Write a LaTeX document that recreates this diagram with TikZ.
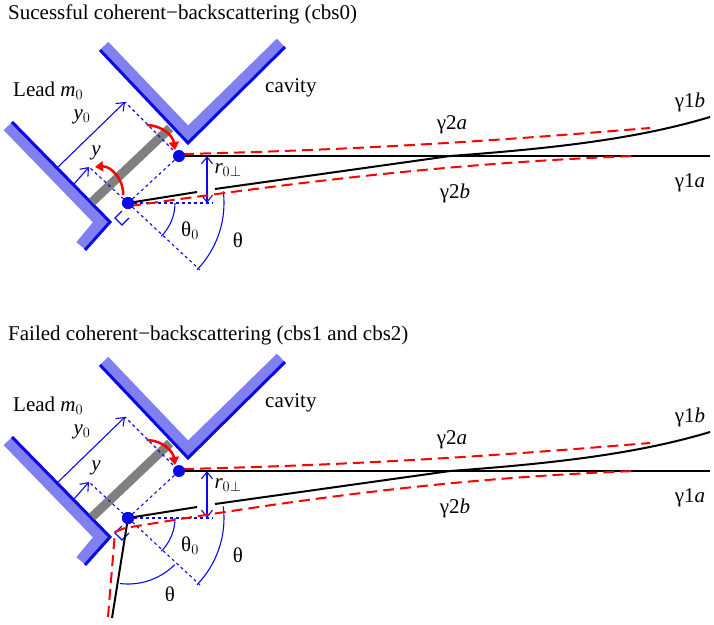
\documentclass[tikz,border=0pt]{standalone}
\usepackage{fontspec}
\setmainfont{Liberation Serif}
\usetikzlibrary{arrows.meta}
\definecolor{lightwall}{RGB}{128,128,240}
\definecolor{darkwall}{RGB}{10,10,230}
\tikzset{
  wallband/.style={line width=12pt, lightwall},
  walledge/.style={line width=3pt, darkwall},
  guide/.style={darkwall, line width=1.1pt, dashed},
  dimarrow/.style={darkwall, line width=1.1pt, -{Straight Barb[length=7pt,width=11pt]}},
  turn/.style={red, line width=2.5pt, -{Triangle[length=8pt,width=10pt]}},
  path1/.style={black, line width=2pt},
  path2/.style={red, line width=2pt, dash pattern=on 11pt off 6pt},
  lbl/.style={font=\fontsize{21}{23}\selectfont, inner sep=0pt},
}
% one panel: walls, lead, geometry and the common paths
\newcommand{\cbspanel}{%
  \draw[wallband] (8,126) -- (101,222) -- (81,246);
  \draw[walledge] (12,122) -- (110,222) -- (85,250);
  \draw[wallband] (104,46) -- (188,134) -- (281,43);
  \draw[walledge] (100,50) -- (188,143) -- (285,47);
  \draw[gray, line width=9pt] (92,202) -- (170,128);
  \coordinate (P1) at (179,156);
  \coordinate (P2) at (128,203);
  \coordinate (Y0) at (125,102);
  \coordinate (Y) at (89,167);
  \draw[guide] (P2) -- (P1) -- (Y0);
  \draw[guide] (P2) -- (Y);
  \draw[guide] (P2) -- (213,203);
  \draw[guide] (P2) -- (200,270);
  \draw[darkwall, line width=1.1pt] (122,211) -- (115,218) -- (122,225) -- (129,218);
  \draw[dimarrow] (57,168) -- (Y0);
  \draw[dimarrow] (74,184) -- (Y);
  \draw[darkwall, line width=1.1pt, {Straight Barb[length=7pt,width=11pt]}-{Straight Barb[length=7pt,width=11pt]}] (207,156) -- (207,203);
  \draw[darkwall, line width=1.1pt] (P2) ++(45:47) arc[start angle=45, end angle=0, radius=47];
  \draw[darkwall, line width=1.1pt] (P2) ++(-7:96) arc[start angle=-7, end angle=44, radius=96];
  \draw[path2] (183,154) .. controls (400,149) and (550,136) .. (650,128);
  \draw[path1] (P1) -- (710,156);
  \draw[path1] (215,189) -- (450,156) .. controls (560,148) and (640,138) .. (710,117);
  \draw[turn] (147,125) to[bend left=40] (175,150);
  \fill[darkwall] (P1) circle (6pt) (P2) circle (6pt);
  \node[lbl, anchor=west] (lead) at (13,91) {Lead \textit{m}$_0$};
  \node[lbl, anchor=west] (cav) at (265,88) {cavity};
  \node[lbl] (ly0) at (82,117) {\textit{y}$_0$};
  \node[lbl] (ly) at (96,153) {\textit{y}};
  \node[lbl] (lr) at (228,170) {\textit{r}$_{0\perp}$};
  \node[lbl] (lt0) at (190,231) {θ$_0$};
  \node[lbl] (lt) at (238,240) {θ};
  \node[lbl] (l2a) at (452,125) {γ2\textit{a}};
  \node[lbl] (l2b) at (455,193) {γ2\textit{b}};
  \node[lbl] (l1b) at (690,102) {γ1\textit{b}};
  \node[lbl] (l1a) at (690,183) {γ1\textit{a}};
}
\begin{document}
\begin{tikzpicture}[x=1pt, y=-1pt]
  \useasboundingbox (0,0) rectangle (714,624);
  \node[lbl, anchor=west] (title1) at (8,14) {Sucessful coherent−backscattering (cbs0)};
  \node[lbl, anchor=west] (title2) at (8,335) {Failed coherent−backscattering (cbs1 and cbs2)};
  % successful panel
  \begin{scope}
    \cbspanel
    \draw[path2] (130,206) .. controls (300,182) and (450,163) .. (635,156);
    \draw[path1] (P2) -- (197,192);
    \draw[turn] (123,195) to[bend right=50] (95,167);
    \fill[darkwall] (P2) circle (6pt);
  \end{scope}
  % failed panel
  \begin{scope}[yshift=-315pt]
    \cbspanel
    \draw[path2] (108,302) -- (115,217) -- (125,213) .. controls (300,184) and (450,163) .. (635,156);
    \draw[path1] (112,303) -- (P2) -- (197,192);
    \draw[darkwall, line width=1.1pt] (P2) ++(45:66) arc[start angle=45, end angle=97, radius=66];
    \node[lbl] (lt2) at (170,279) {θ};
    \fill[darkwall] (P2) circle (6pt);
  \end{scope}
\end{tikzpicture}
\end{document}
